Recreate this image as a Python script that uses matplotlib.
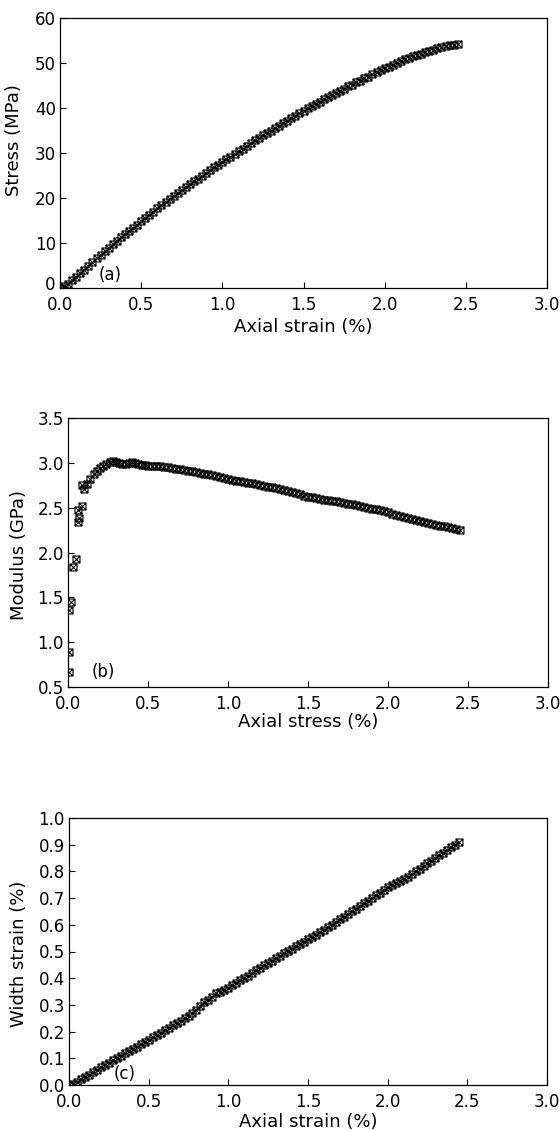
import numpy as np
import matplotlib
matplotlib.use("Agg")
import matplotlib.pyplot as plt
import matplotlib.transforms as mtransforms
from matplotlib.path import Path

plt.rcParams['font.family'] = ['DejaVu Sans']

# axial strain grid used for (a) and (c)
strain_a = [0.000, 0.025, 0.050, 0.075, 0.100, 0.125, 0.150, 0.175, 0.200, 0.225,
            0.250, 0.275, 0.300, 0.325, 0.350, 0.375, 0.400, 0.425, 0.450, 0.475,
            0.500, 0.525, 0.550, 0.575, 0.600, 0.625, 0.650, 0.675, 0.700, 0.725,
            0.750, 0.775, 0.800, 0.825, 0.850, 0.875, 0.900, 0.925, 0.950, 0.975,
            1.000, 1.025, 1.050, 1.075, 1.100, 1.125, 1.150, 1.175, 1.200, 1.225,
            1.250, 1.275, 1.300, 1.325, 1.350, 1.375, 1.400, 1.425, 1.450, 1.475,
            1.500, 1.525, 1.550, 1.575, 1.600, 1.625, 1.650, 1.675, 1.700, 1.725,
            1.750, 1.775, 1.800, 1.825, 1.850, 1.875, 1.900, 1.925, 1.950, 1.975,
            2.000, 2.025, 2.050, 2.075, 2.100, 2.125, 2.150, 2.175, 2.200, 2.225,
            2.250, 2.275, 2.300, 2.325, 2.350, 2.375, 2.400, 2.425, 2.450]

# (a) stress (MPa)
stress_a = [0.0, 0.4, 1.0, 1.7, 2.5, 3.3, 4.1, 5.0, 5.8, 6.6,
            7.4, 8.2, 9.0, 9.8, 10.5, 11.3, 12.0, 12.7, 13.4, 14.1,
            14.8, 15.6, 16.3, 17.0, 17.7, 18.4, 19.1, 19.7, 20.4, 21.1,
            21.8, 22.5, 23.1, 23.7, 24.3, 25.0, 25.6, 26.3, 26.9, 27.4,
            28.0, 28.6, 29.2, 29.8, 30.4, 31.0, 31.6, 32.2, 32.8, 33.3,
            33.9, 34.5, 35.0, 35.6, 36.1, 36.7, 37.2, 37.8, 38.3, 38.9,
            39.4, 39.9, 40.4, 40.9, 41.4, 41.9, 42.4, 42.9, 43.4, 43.8,
            44.3, 44.8, 45.2, 45.7, 46.1, 46.6, 47.0, 47.5, 47.9, 48.4,
            48.8, 49.2, 49.6, 50.0, 50.4, 50.8, 51.1, 51.5, 51.8, 52.1,
            52.4, 52.7, 53.0, 53.3, 53.5, 53.7, 53.9, 54.1, 54.3]

# (b) modulus (GPa) vs axial stress (%)
strain_b = [0.005, 0.005, 0.008, 0.019, 0.033, 0.05, 0.06, 0.065, 0.069, 0.085,
            0.085, 0.10, 0.12, 0.14, 0.16, 0.18, 0.20, 0.22, 0.24, 0.26,
            0.28, 0.30, 0.32, 0.34, 0.36, 0.38, 0.40, 0.42, 0.44, 0.46,
            0.48,
            0.500, 0.525, 0.550, 0.575, 0.600, 0.625, 0.650, 0.675, 0.700, 0.725,
            0.750, 0.775, 0.800, 0.825, 0.850, 0.875, 0.900, 0.925, 0.950, 0.975,
            1.000, 1.025, 1.050, 1.075, 1.100, 1.125, 1.150, 1.175, 1.200, 1.225,
            1.250, 1.275, 1.300, 1.325, 1.350, 1.375, 1.400, 1.425, 1.450, 1.475,
            1.500, 1.525, 1.550, 1.575, 1.600, 1.625, 1.650, 1.675, 1.700, 1.725,
            1.750, 1.775, 1.800, 1.825, 1.850, 1.875, 1.900, 1.925, 1.950, 1.975,
            2.000, 2.025, 2.050, 2.075, 2.100, 2.125, 2.150, 2.175, 2.200, 2.225,
            2.250, 2.275, 2.300, 2.325, 2.350, 2.375, 2.400, 2.425, 2.450]
modulus_b = [0.67, 0.89, 1.36, 1.45, 1.84, 1.93, 2.47, 2.34, 2.39, 2.52,
             2.75, 2.71, 2.76, 2.82, 2.87, 2.91, 2.94, 2.96, 2.99, 3.01,
             3.02, 3.01, 3.00, 2.99, 2.99, 3.00, 3.01, 3.00, 2.99, 2.98,
             2.98,
             2.97, 2.97, 2.96, 2.96, 2.95, 2.95, 2.94, 2.93, 2.93, 2.92,
             2.91, 2.91, 2.90, 2.89, 2.88, 2.87, 2.86, 2.85, 2.84, 2.83,
             2.82, 2.81, 2.80, 2.80, 2.79, 2.78, 2.77, 2.76, 2.75, 2.74,
             2.73, 2.73, 2.72, 2.71, 2.70, 2.69, 2.68, 2.66, 2.65, 2.63,
             2.62, 2.62, 2.61, 2.60, 2.59, 2.58, 2.57, 2.57, 2.56, 2.55,
             2.54, 2.54, 2.53, 2.52, 2.51, 2.50, 2.49, 2.48, 2.47, 2.46,
             2.45, 2.43, 2.42, 2.41, 2.40, 2.38, 2.37, 2.36, 2.35, 2.34,
             2.33, 2.32, 2.31, 2.30, 2.29, 2.28, 2.27, 2.26, 2.25]

# (c) width strain (%)
width_c = [0.000, 0.005, 0.012, 0.021, 0.030, 0.039, 0.048, 0.057, 0.066, 0.075,
           0.083, 0.092, 0.100, 0.109, 0.118, 0.127, 0.135, 0.144, 0.152, 0.161,
           0.170, 0.178, 0.187, 0.196, 0.205, 0.214, 0.223, 0.231, 0.240, 0.250,
           0.260, 0.270, 0.280, 0.295, 0.310, 0.320, 0.330, 0.345, 0.350, 0.357,
           0.365, 0.374, 0.383, 0.392, 0.400, 0.410, 0.420, 0.430, 0.440, 0.449,
           0.458, 0.466, 0.475, 0.484, 0.493, 0.502, 0.510, 0.519, 0.528, 0.537,
           0.545, 0.554, 0.563, 0.572, 0.580, 0.590, 0.600, 0.610, 0.620, 0.630,
           0.640, 0.650, 0.660, 0.670, 0.680, 0.690, 0.700, 0.710, 0.720, 0.730,
           0.740, 0.748, 0.755, 0.763, 0.770, 0.780, 0.790, 0.800, 0.810, 0.820,
           0.830, 0.840, 0.850, 0.860, 0.870, 0.880, 0.890, 0.900, 0.910]

# square with a cross inside
box_x = Path([(-1, -1), (1, -1), (1, 1), (-1, 1), (-1, -1), (-1, -1), (1, 1), (-1, 1), (1, -1)],
             [Path.MOVETO, Path.LINETO, Path.LINETO, Path.LINETO, Path.CLOSEPOLY,
              Path.MOVETO, Path.LINETO, Path.MOVETO, Path.LINETO])

W, H = 560, 1130
fig = plt.figure(figsize=(W / 100, H / 100), dpi=100)

def px_axes(x0, y0, x1, y1):
    return fig.add_axes([x0 / W, 1 - y1 / H, (x1 - x0) / W, (y1 - y0) / H])

def style(ax, yticks, ylabels):
    ax.set_xlim(0, 3.0)
    ax.set_xticks([0, 0.5, 1.0, 1.5, 2.0, 2.5, 3.0])
    ax.set_xticklabels(["0.0", "0.5", "1.0", "1.5", "2.0", "2.5", "3.0"])
    ax.set_yticks(yticks)
    ax.set_yticklabels(ylabels)
    ax.tick_params(direction='in', length=4, width=0.8, labelsize=12)
    ax.tick_params(axis='x', pad=6)
    ax.tick_params(axis='y', pad=3)
    for s in ax.spines.values():
        s.set_linewidth(0.9)

mk = dict(ls='none', marker=box_x, ms=5, mew=0.8, mec='black', mfc='none')
lab = 13

ax1 = px_axes(60, 18, 547, 288)
ax1.plot(strain_a, stress_a, **mk)
ax1.set_ylim(0, 60)
style(ax1, [0, 10, 20, 30, 40, 50, 60], ["0", "10", "20", "30", "40", "50", "60"])
ax1.set_xlabel("Axial strain (%)", fontsize=lab)
ax1.set_ylabel("Stress (MPa)", fontsize=lab)
ax1.xaxis.set_label_coords(0.5, -0.11)
ax1.yaxis.set_label_coords(-0.076, 0.548)
ax1.text(0.31, 2.9, "(a)", fontsize=12, ha='center', va='center')
# the "0" sits a little above the corner, as in the original
zero = ax1.get_yticklabels()[0]
zero.set_transform(zero.get_transform() +
                   mtransforms.ScaledTranslation(0, 5 / 100, fig.dpi_scale_trans))

ax2 = px_axes(68, 418, 548, 687)
ax2.plot(strain_b, modulus_b, **mk)
ax2.set_ylim(0.5, 3.5)
style(ax2, [0.5, 1.0, 1.5, 2.0, 2.5, 3.0, 3.5],
      ["0.5", "1.0", "1.5", "2.0", "2.5", "3.0", "3.5"])
ax2.set_xlabel("Axial stress (%)", fontsize=lab)
ax2.set_ylabel("Modulus (GPa)", fontsize=lab)
ax2.xaxis.set_label_coords(0.5, -0.096)
ax2.yaxis.set_label_coords(-0.083, 0.49)
ax2.text(0.22, 0.67, "(b)", fontsize=12, ha='center', va='center')

ax3 = px_axes(69, 818, 547, 1085)
ax3.plot(strain_a, width_c, **mk)
ax3.set_ylim(0, 1.0)
style(ax3, np.arange(0, 1.01, 0.1),
      ["0.0", "0.1", "0.2", "0.3", "0.4", "0.5", "0.6", "0.7", "0.8", "0.9", "1.0"])
ax3.set_xlabel("Axial strain (%)", fontsize=lab)
ax3.set_ylabel("Width strain (%)", fontsize=lab)
ax3.xaxis.set_label_coords(0.5, -0.104)
ax3.yaxis.set_label_coords(-0.086, 0.49)
ax3.text(0.35, 0.04, "(c)", fontsize=12, ha='center', va='center')

fig.savefig("out.png", dpi=100)
